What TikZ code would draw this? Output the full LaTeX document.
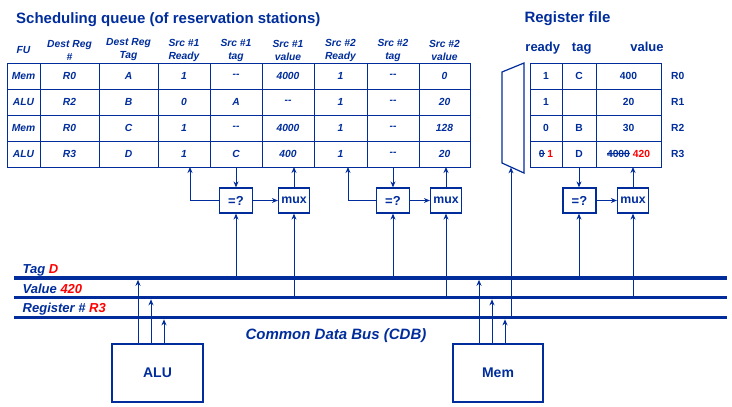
\documentclass[tikz,border=0pt]{standalone}
\usepackage{fontspec}
\setmainfont{Liberation Sans}
\usepackage{tikz}
\usetikzlibrary{arrows.meta}
\definecolor{navy}{RGB}{0,45,155}
\definecolor{hot}{RGB}{255,0,0}
\newsavebox\strikebox
\newcommand\struck[1]{\sbox\strikebox{#1}\rlap{\rule[0.33em]{\wd\strikebox}{0.8pt}}\usebox\strikebox}
\tikzset{
	cell/.style={draw=navy,line width=1pt,inner sep=0pt,outer sep=0pt,minimum height=26pt,text=navy,font=\fontsize{10.3}{12}\selectfont\bfseries\itshape},
	rcell/.style={cell,font=\fontsize{10.3}{12}\selectfont\bfseries},
	hdr/.style={text=navy,align=center,inner sep=0pt,font=\fontsize{10.3}{13}\selectfont\bfseries\itshape},
	unit/.style={draw=navy,line width=1.2pt,inner sep=0pt,minimum height=25pt,text=navy,font=\fontsize{13}{15}\selectfont\bfseries},
	muxbox/.style={unit,minimum width=31pt,font=\fontsize{12.3}{15}\selectfont\bfseries},
	title/.style={text=navy,inner sep=0pt,anchor=base west,font=\fontsize{15}{17}\selectfont\bfseries},
	buslbl/.style={text=navy,inner sep=0pt,anchor=base west,font=\fontsize{13}{15}\selectfont\bfseries\itshape},
	bus/.style={navy,line width=3.7pt},
	wire/.style={navy,line width=1pt},
	arr/.style={wire,-{Stealth[length=6pt,width=5pt]}}
}
\begin{document}
\begin{tikzpicture}[x=1pt,y=-1pt]
	\useasboundingbox (0,0) rectangle (732,407);
	\node[title] (sqtitle) at (16,23.3) {Scheduling queue (of reservation stations)};
	\node[title] (rftitle) at (524.3,22.7) {Register file};
	\foreach \t [count=\c] in {FU,Dest Reg\\\#,Dest Reg\\Tag,Src \#1\\Ready,Src \#1\\tag,Src \#1\\value,Src \#2\\Ready,Src \#2\\tag,Src \#2\\value}{
		\pgfmathsetmacro\cx{{23.5,69.5,128.5,184,236,288,340.5,393,444.5}[\c-1]}
		\node[hdr] (h\c) at (\cx,50) {\t};
	}
	\foreach \r/\vals in {1/{Mem,R0,A,1,-{}-,4000,1,-{}-,0},2/{ALU,R2,B,0,A,-{}-,1,-{}-,20},3/{Mem,R0,C,1,-{}-,4000,1,-{}-,128},4/{ALU,R3,D,1,C,400,1,-{}-,20}}{
		\foreach \v [count=\c] in \vals {
			\pgfmathsetmacro\cx{{23.5,69.5,128.5,184,236,288,340.5,393,444.5}[\c-1]}
			\pgfmathsetmacro\cw{{33,59,59,52,52,52,53,52,51}[\c-1]}
			\node[cell,minimum width=\cw pt] (s\r-\c) at (\cx,50+26*\r) {\v};
		}
	}
	\foreach \t/\cx in {ready/542.8,tag/581.7,value/647}{
		\node[text=navy,inner sep=0pt,anchor=base,font=\fontsize{13}{15}\selectfont\bfseries] (rh-\t) at (\cx,51) {\t};
	}
	\foreach \r/\vals in {1/{1,C,400},2/{1,{},20},3/{0,B,30},4/{\struck{0} \textcolor{hot}{1},D,\struck{4000} \textcolor{hot}{420}}}{
		\foreach \v [count=\c] in \vals {
			\pgfmathsetmacro\cx{{546,579,628.5}[\c-1]}
			\pgfmathsetmacro\cw{{32,34,65}[\c-1]}
			\node[rcell,minimum width=\cw pt] (rf\r-\c) at (\cx,50+26*\r) {\v};
		}
		\pgfmathtruncatemacro\n{\r-1}
		\node[text=navy,inner sep=0pt,anchor=west,font=\fontsize{10.3}{12}\selectfont\bfseries] (rn\r) at (671,50+26*\r) {R\n};
	}
	\draw[wire,line width=1.2pt] (502,72) -- (524,63) -- (524,173) -- (502,163) -- cycle;
	\coordinate (sel) at (511,167.4);
	\node[unit,minimum width=33pt] (eq1) at (236,200.5) {=?};
	\node[muxbox] (mux1) at (294,200.5) {mux};
	\node[unit,minimum width=33pt] (eq2) at (393,200.5) {=?};
	\node[muxbox] (mux2) at (446,200.5) {mux};
	\node[unit,minimum width=33pt] (eq3) at (579.5,200.5) {=?};
	\node[muxbox] (mux3) at (633,200.5) {mux};
	\draw[arr] (s4-5.south) -- (s4-5.south |- eq1.north);
	\draw[arr] (eq1) -- (mux1);
	\draw[arr] (eq1.west) -| ([xshift=6pt]s4-4.south);
	\draw[arr] (mux1) -- (mux1 |- s4-6.south);
	\draw[arr] (s4-8.south) -- (s4-8.south |- eq2.north);
	\draw[arr] (eq2) -- (mux2);
	\draw[arr] (eq2.west) -| ([xshift=7.5pt]s4-7.south);
	\draw[arr] (mux2) -- (mux2 |- s4-9.south);
	\draw[arr] (rf4-2.south) -- (rf4-2.south |- eq3.north);
	\draw[arr] (eq3) -- (mux3);
	\draw[arr] (mux3) -- (mux3 |- rf4-3.south);
	\coordinate (tag) at (14,278);
	\coordinate (tag-e) at (727,278);
	\coordinate (val) at (14,297.5);
	\coordinate (val-e) at (727,297.5);
	\coordinate (reg) at (14,317.5);
	\coordinate (reg-e) at (727,317.5);
	\draw[arr] (s4-5.south |- tag) -- (s4-5.south |- eq1.south);
	\draw[arr] (mux1 |- val) -- (mux1.south);
	\draw[arr] (s4-8.south |- tag) -- (s4-8.south |- eq2.south);
	\draw[arr] (mux2 |- val) -- (mux2.south);
	\draw[arr] (sel |- reg) -- (sel);
	\draw[arr] (rf4-2.south |- tag) -- (rf4-2.south |- eq3.south);
	\draw[arr] (mux3 |- val) -- (mux3.south);
	\node[unit,minimum width=91pt,minimum height=58pt,font=\fontsize{14}{16}\selectfont\bfseries] (alu) at (157.5,373) {ALU};
	\node[unit,minimum width=90pt,minimum height=58pt,font=\fontsize{14}{16}\selectfont\bfseries] (mem) at (498,373) {Mem};
	\foreach \dx/\b in {-19.5/tag,-6.5/val,6.5/reg}{
		\draw[arr,shorten >=1.8pt] ([xshift=\dx pt]alu.north) -- ([xshift=\dx pt]alu.north |- \b);
	}
	\foreach \dx/\b in {-19/tag,-6/val,7/reg}{
		\draw[arr,shorten >=1.8pt] ([xshift=\dx pt]mem.north) -- ([xshift=\dx pt]mem.north |- \b);
	}
	\draw[bus] (tag) -- (tag-e);
	\draw[bus] (val) -- (val-e);
	\draw[bus] (reg) -- (reg-e);
	\node[buslbl] (tagtxt) at (22.5,273.3) {Tag \textcolor{hot}{D}};
	\node[buslbl] (valtxt) at (22.5,293) {Value \textcolor{hot}{420}};
	\node[buslbl] (regtxt) at (22.5,312.5) {Register \# \textcolor{hot}{R3}};
	\node[buslbl,anchor=base,font=\fontsize{15}{17}\selectfont\bfseries\itshape] (cdb) at (336,339.3) {Common Data Bus (CDB)};
\end{tikzpicture}
\end{document}
